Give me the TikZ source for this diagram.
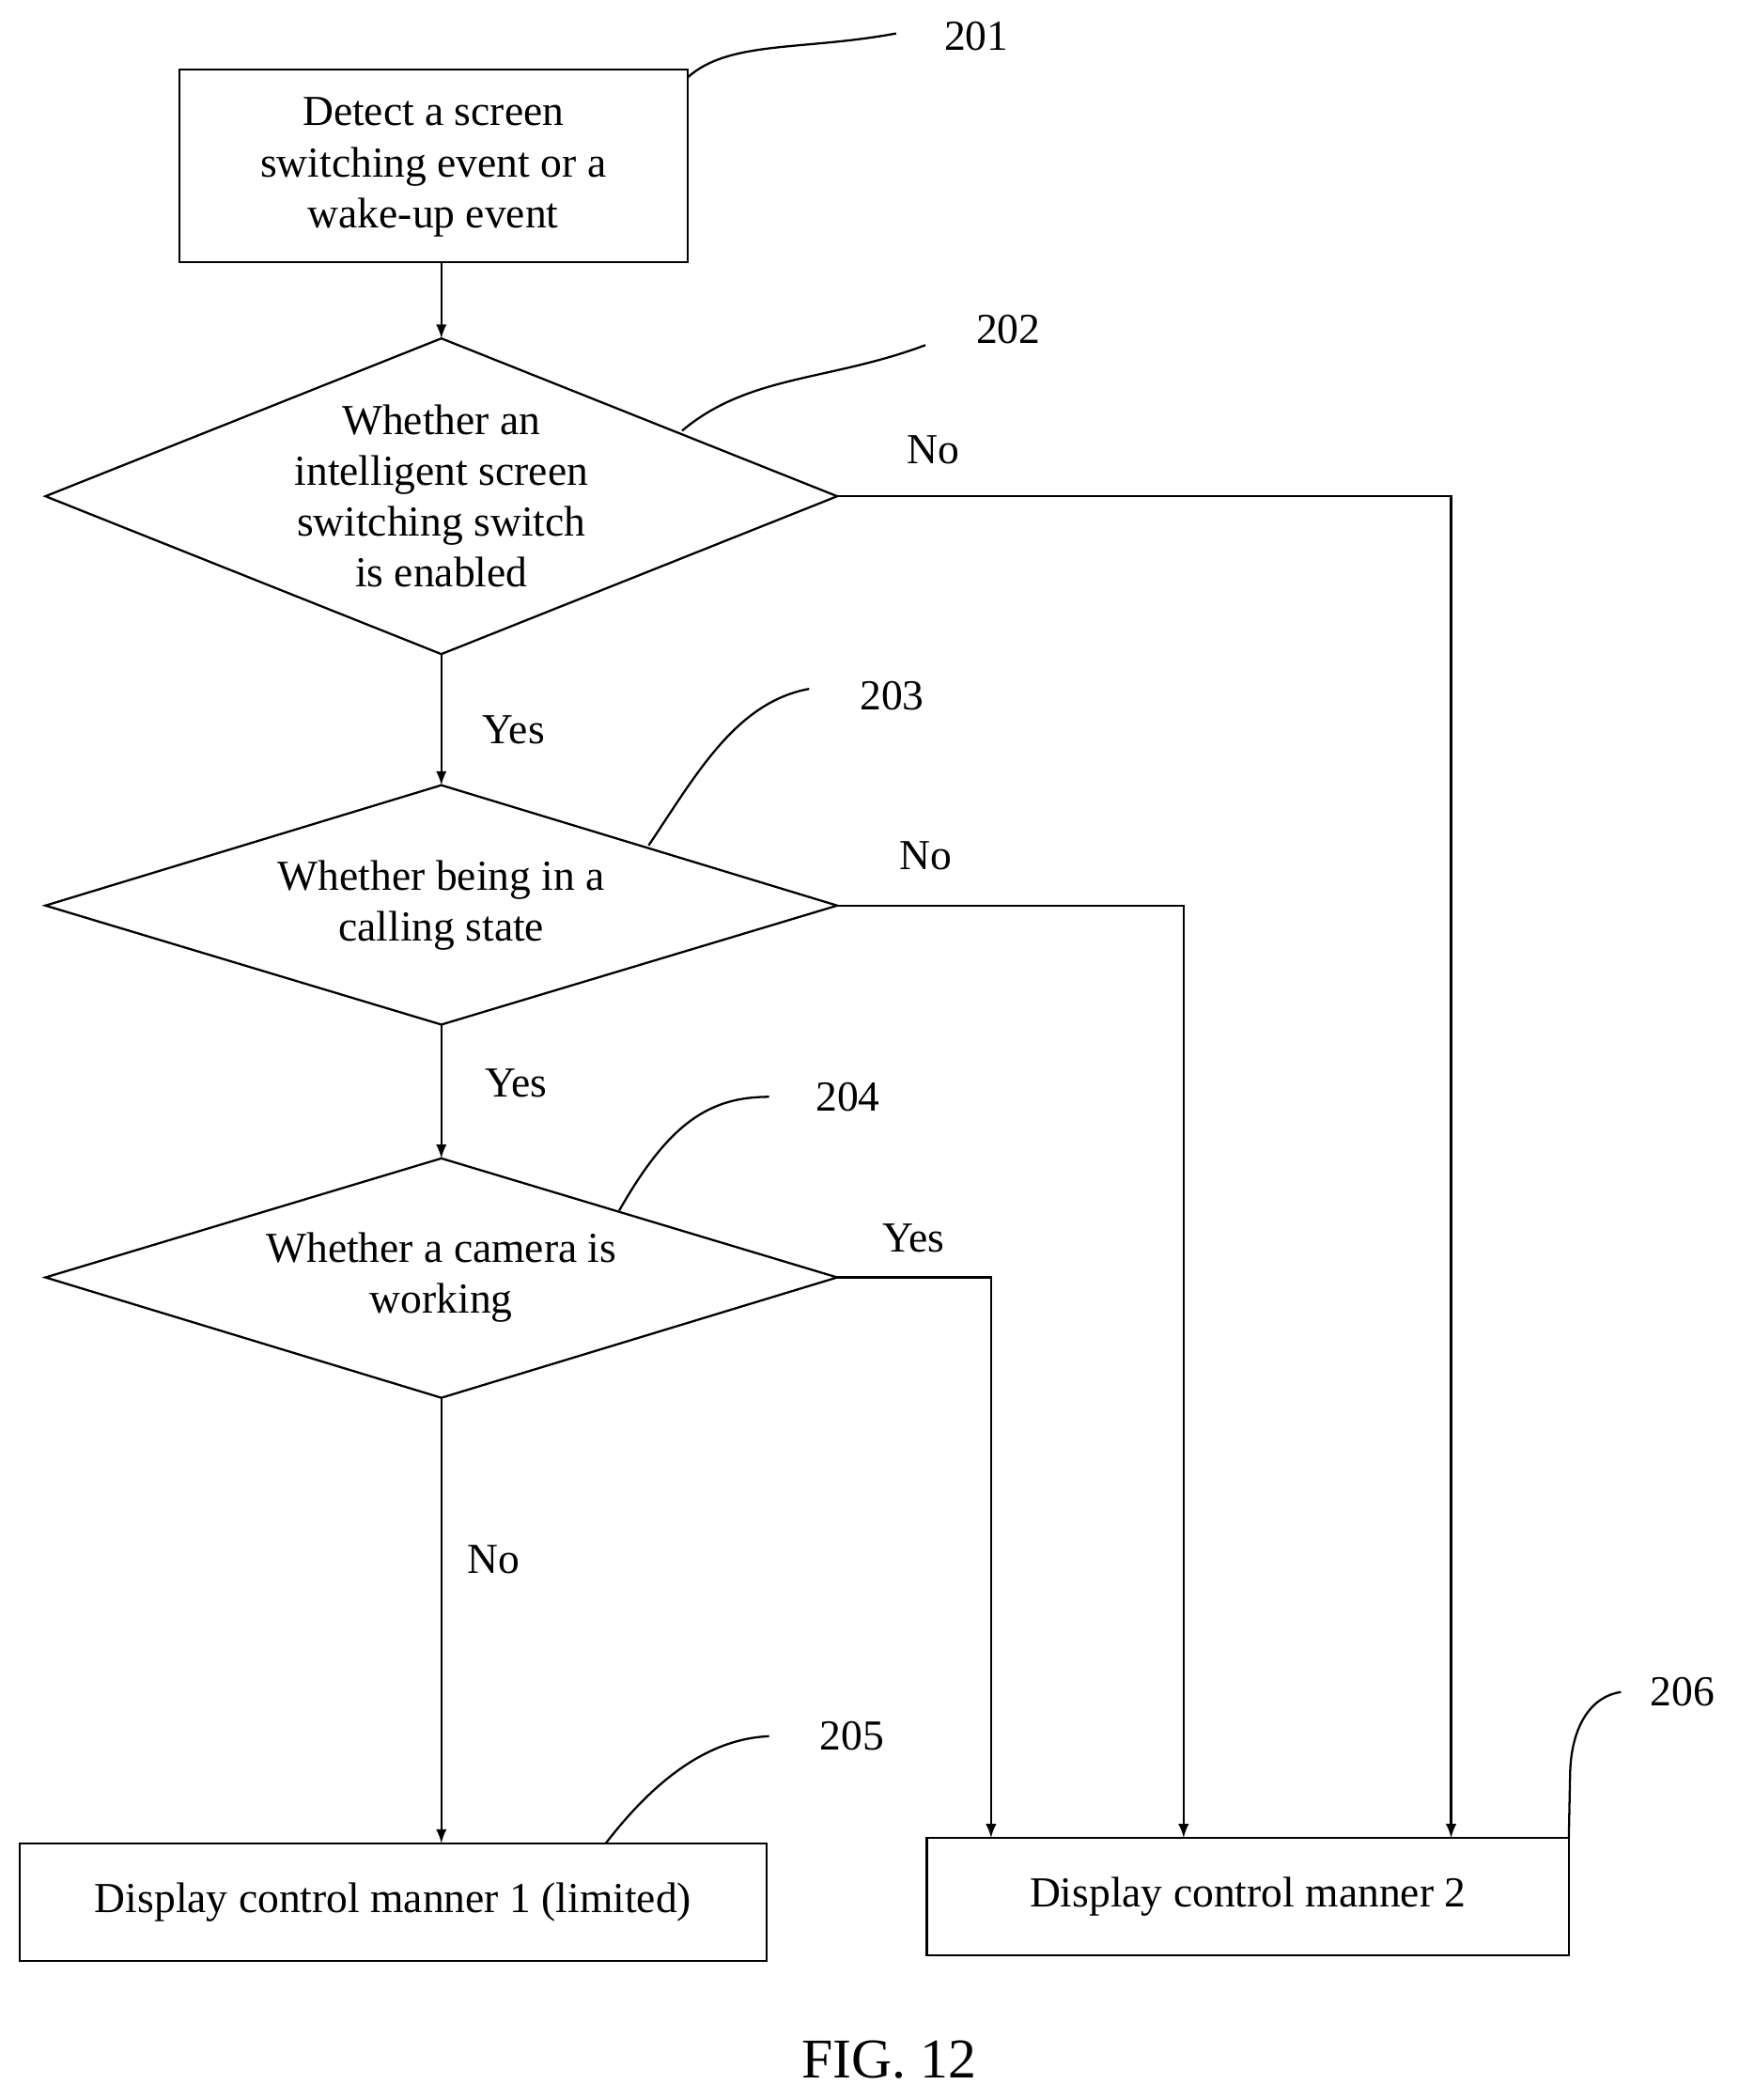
\documentclass[tikz,border=0pt]{standalone}
\usepackage{fontspec}
\setmainfont{Liberation Serif}
\begin{document}
\begin{tikzpicture}[x=0.5pt,y=-0.5pt,
  every node/.style={font=\fontsize{16}{19}\selectfont},
  box/.style={draw,line width=0.8pt},
  ln/.style={line width=0.8pt},
  arr/.style={ln,-latex},
  lbl/.style={align=center}]
\useasboundingbox (0,0) rectangle (1300,1570);
% box 201
\draw[box] (134,52) rectangle (514,196);
\node[lbl] (n201) at (324,125) {Detect a screen\\switching event or a\\wake-up event};
\coordinate (b201) at (330,196);
% diamonds
\coordinate (t202) at (330,253); \coordinate (r202) at (626,371); \coordinate (b202) at (330,489); \coordinate (l202) at (34,371);
\draw[ln] (t202)--(r202)--(b202)--(l202)--cycle;
\node[lbl] (n202) at (330,371) {Whether an\\intelligent screen\\switching switch\\is enabled};
\coordinate (t203) at (330,587); \coordinate (r203) at (626,677); \coordinate (b203) at (330,766); \coordinate (l203) at (34,677);
\draw[ln] (t203)--(r203)--(b203)--(l203)--cycle;
\node[lbl] (n203) at (330,677) {Whether being in a\\calling state};
\coordinate (t204) at (330,866); \coordinate (r204) at (626,955); \coordinate (b204) at (330,1045); \coordinate (l204) at (34,955);
\draw[ln] (t204)--(r204)--(b204)--(l204)--cycle;
\node[lbl] (n204) at (330,955) {Whether a camera is\\working};
% bottom boxes
\draw[box] (15,1378) rectangle (573,1466);
\node (n205) at (294,1422) {Display control manner 1 (limited)};
\draw[box] (693,1374) rectangle (1173,1462);
\node (n206) at (933,1418) {Display control manner 2};
\coordinate (t205) at (330,1378);
\coordinate (a1) at (1085,1374); \coordinate (a2) at (885,1374); \coordinate (a3) at (741,1374);
% arrows
\draw[arr] (b201)--(t202);
\draw[arr] (b202)--(t203);
\draw[arr] (b203)--(t204);
\draw[arr] (b204)--(t205);
\draw[arr] (r202)-|(a1);
\draw[arr] (r203)-|(a2);
\draw[arr] (r204)-|(a3);
% labels
\node (no1) at (698,336) {No};
\node (no2) at (692,640) {No};
\node (yes3) at (683,926) {Yes};
\node (yes1) at (384,546) {Yes};
\node (yes2) at (386,810) {Yes};
\node (no3) at (369,1166) {No};
% leaders
\node (r1) at (730,27) {201};
\node (r2) at (754,246) {202};
\node (r3) at (667,520) {203};
\node (r4) at (634,820) {204};
\node (r5) at (637,1298) {205};
\node (r6) at (1258,1265) {206};
\draw[ln] (514,58) .. controls (545,30) and (600,38) .. (670,25);
\draw[ln] (510,322) .. controls (560,280) and (620,285) .. (692,258);
\draw[ln] (485,632) .. controls (520,580) and (550,525) .. (605,515);
\draw[ln] (463,905) .. controls (500,840) and (530,820) .. (575,820);
\draw[ln] (453,1378) .. controls (490,1330) and (530,1300) .. (575,1298);
\draw[ln] (1173,1374) -- (1174,1325) .. controls (1175,1290) and (1190,1268) .. (1212,1265);
\node (fig) at (665,1540) {\fontsize{21}{24}\selectfont FIG. 12};
\end{tikzpicture}
\end{document}
